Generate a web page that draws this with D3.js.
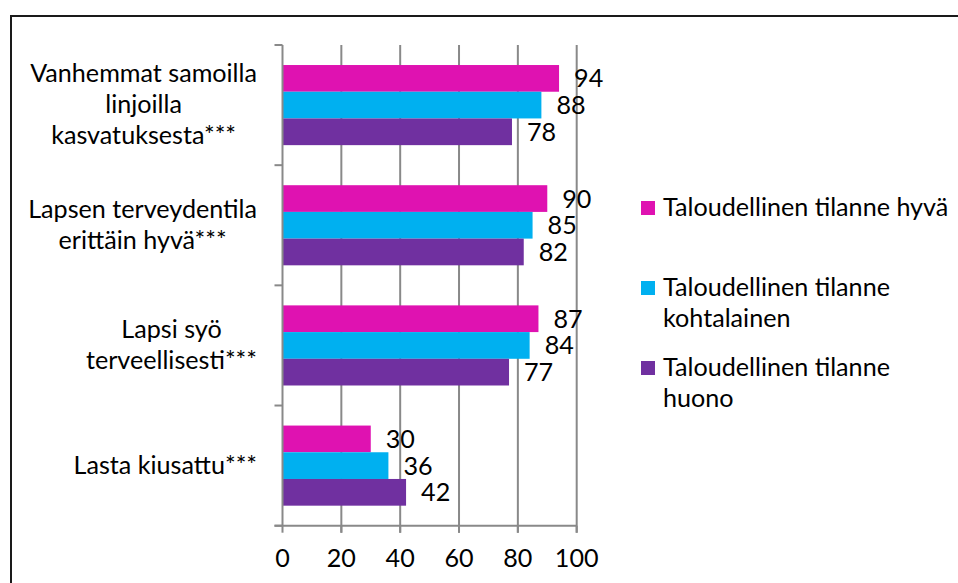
<!DOCTYPE html>
<html><head><meta charset="utf-8">
<script src="https://cdn.jsdelivr.net/npm/d3@7/dist/d3.min.js"></script>
<style>html,body{margin:0;padding:0;background:#fff;}svg{display:block;}</style>
</head><body>
<svg id="chart" width="958" height="583"></svg>
<script>
const categories = ["Vanhemmat samoilla linjoilla kasvatuksesta***", "Lapsen terveydentila erittäin hyvä***", "Lapsi syö terveellisesti***", "Lasta kiusattu***"];
const categoryLines = [["Vanhemmat samoilla", "linjoilla", "kasvatuksesta***"], ["Lapsen terveydentila", "erittäin hyvä***"], ["Lapsi syö", "terveellisesti***"], ["Lasta kiusattu***"]];
const seriesNames = ["Taloudellinen tilanne hyvä", "Taloudellinen tilanne kohtalainen", "Taloudellinen tilanne huono"];
const seriesLines = [["Taloudellinen tilanne hyvä"], ["Taloudellinen tilanne", "kohtalainen"], ["Taloudellinen tilanne", "huono"]];
const seriesColors = ["#DF12B1", "#00B0F0", "#7030A0"];
const valuesHyva = [94, 90, 87, 30];
const valuesKohtalainen = [88, 85, 84, 36];
const valuesHuono = [78, 82, 77, 42];
const xTicks = [0, 20, 40, 60, 80, 100];

const seriesValues = [valuesHyva, valuesKohtalainen, valuesHuono];
const svg = d3.select("#chart");
const FONT = "Lato, 'Open Sans', sans-serif";

// fit font size so widths match the reference rendering
const probe = svg.append("text").attr("font-family", FONT).attr("font-size", 100).text("Vanhemmat samoilla");
const w100 = probe.node().getComputedTextLength();
probe.remove();
const fs = Math.min(26, 100 * 227 / w100);

// border
svg.append("rect").attr("x", 11).attr("y", 16).attr("width", 960).attr("height", 600)
  .attr("fill", "none").attr("stroke", "#1a1a1a").attr("stroke-width", 2);

const x = d3.scaleLinear().domain([0, 100]).range([282.5, 576.7]);
const y0 = d3.scaleBand().domain(categories).range([45, 525.7]);
const y1 = d3.scaleBand().domain(seriesNames).range([0, y0.bandwidth()]).paddingOuter(0.75).paddingInner(0);
const gridColor = "#898989";

// gridlines
svg.append("g").selectAll("line").data(xTicks.filter(d => d > 0)).join("line")
  .attr("x1", d => x(d)).attr("x2", d => x(d))
  .attr("y1", y0.range()[0]).attr("y2", y0.range()[1] + 7)
  .attr("stroke", gridColor).attr("stroke-width", 2);

// bars
categories.forEach((c, ci) => {
  const g = svg.append("g").attr("transform", `translate(0,${y0(c)})`);
  g.selectAll("rect").data(seriesNames).join("rect")
    .attr("x", x(0)).attr("y", s => y1(s))
    .attr("width", (s, si) => x(seriesValues[si][ci]) - x(0))
    .attr("height", y1.bandwidth())
    .attr("fill", (s, si) => seriesColors[si]);
  g.selectAll("text").data(seriesNames).join("text")
    .attr("x", (s, si) => x(seriesValues[si][ci]) + 15)
    .attr("y", s => y1(s) + y1.bandwidth() / 2 + 9)
    .attr("font-family", FONT).attr("font-size", fs).attr("fill", "#000")
    .text((s, si) => seriesValues[si][ci]);
});

// y axis
const yAxisG = svg.append("g");
yAxisG.append("line").attr("x1", x(0)).attr("x2", x(0)).attr("y1", y0.range()[0]).attr("y2", y0.range()[1])
  .attr("stroke", gridColor).attr("stroke-width", 2);
const bounds = categories.map(c => y0(c)).concat([y0.range()[1]]);
yAxisG.selectAll("line.tk").data(bounds).join("line").attr("class", "tk")
  .attr("x1", x(0) - 8).attr("x2", x(0)).attr("y1", d => d).attr("y2", d => d)
  .attr("stroke", gridColor).attr("stroke-width", 2);

// x axis
const xAxisG = svg.append("g");
xAxisG.append("line").attr("x1", x(0) - 8).attr("x2", x(100)).attr("y1", y0.range()[1]).attr("y2", y0.range()[1])
  .attr("stroke", gridColor).attr("stroke-width", 2);
xAxisG.selectAll("line.tk").data(xTicks).join("line").attr("class", "tk")
  .attr("x1", d => x(d)).attr("x2", d => x(d)).attr("y1", y0.range()[1]).attr("y2", y0.range()[1] + 7)
  .attr("stroke", gridColor).attr("stroke-width", 2);
xAxisG.selectAll("text").data(xTicks).join("text")
  .attr("x", d => x(d)).attr("y", 567).attr("text-anchor", "middle")
  .attr("font-family", FONT).attr("font-size", fs).attr("fill", "#000")
  .text(d => d);

// category labels
const labelRight = 257, lineH = 31;
categories.forEach((c, ci) => {
  const lines = categoryLines[ci];
  const cy = y0(c) + y0.bandwidth() / 2;
  const t = svg.append("g");
  const texts = t.selectAll("text").data(lines).join("text")
    .attr("font-family", FONT).attr("font-size", fs).attr("fill", "#000")
    .attr("text-anchor", "middle")
    .attr("y", (d, i) => cy - (lines.length - 1) * lineH / 2 + 8 + i * lineH)
    .text(d => d);
  const maxW = d3.max(texts.nodes(), n => n.getComputedTextLength());
  texts.attr("x", labelRight - maxW / 2);
});

// legend
const legendBase = [216, 296, 376];
seriesNames.forEach((s, si) => {
  const g = svg.append("g");
  g.append("rect").attr("x", 641).attr("y", legendBase[si] - 15).attr("width", 14).attr("height", 14)
    .attr("fill", seriesColors[si]);
  g.selectAll("text").data(seriesLines[si]).join("text")
    .attr("x", 663).attr("y", (d, i) => legendBase[si] + i * 31)
    .attr("font-family", FONT).attr("font-size", fs).attr("fill", "#000")
    .text(d => d);
});
</script>
</body></html>
